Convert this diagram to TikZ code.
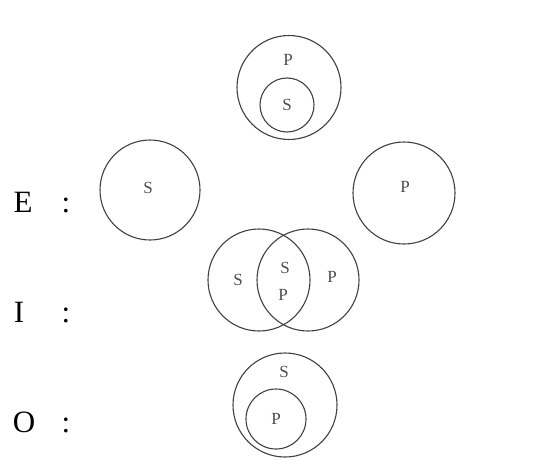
\documentclass[tikz,border=0pt]{standalone}
\usepackage{fontspec}
\setmainfont{Liberation Serif}
\usepackage{tikz}
\usetikzlibrary{positioning}

\begin{document}
\begin{tikzpicture}[
    x=1pt, y=1pt,
    ring/.style={circle, draw=black!75, line width=1.1pt,
      inner sep=0pt, outer sep=0pt},
    term/.style={font=\fontsize{17}{17}\selectfont, text=black!70,
      inner sep=0pt},
    form/.style={font=\fontsize{31}{31}\selectfont, anchor=base,
      inner sep=0pt},
]
\useasboundingbox (0,0) rectangle (534,459);

% ── A : S inside P ──
\node[ring, minimum size=104pt] (aP) at (289,371.5) {};
\node[ring, minimum size=54pt] (aS) at (287,354) {};
\node[term] (aPl) at (288,399) {P};
\node[term] (aSl) at (aS) {S};

% ── E : S and P apart ──
\node[form] (eL) at (23,247) {E};
\node[form] (eC) at (66,247) {:};
\node[ring, minimum size=100pt] (eS) at (150,269) {};
\node[ring, minimum size=102pt] (eP) at (404,266) {};
\node[term] (eSl) at (148,271) {S};
\node[term] (ePl) at (405,272) {P};

% ── I : S and P overlap ──
\node[form] (iL) at (19,137) {I};
\node[form] (iC) at (66,137) {:};
\node[ring, minimum size=102pt] (iS) at (259,179) {};
\node[ring, minimum size=102pt] (iP) at (308,179) {};
\node[term] (iSl) at (238,179) {S};
\node[term] (iSm) at (285,191) {S};
\node[term] (iPm) at (283,164) {P};
\node[term] (iPl) at (332,182) {P};

% ── O : P inside S ──
\node[form] (oL) at (24,27) {O};
\node[form] (oC) at (66,27) {:};
\node[ring, minimum size=104pt] (oS) at (285,54) {};
\node[ring, minimum size=60pt] (oP) at (276,40) {};
\node[term] (oSl) at (284,87) {S};
\node[term] (oPl) at (oP) {P};

\end{tikzpicture}
\end{document}
